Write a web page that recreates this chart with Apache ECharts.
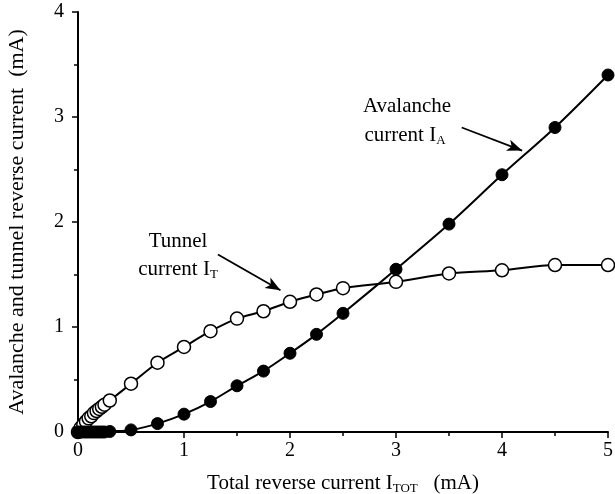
<!DOCTYPE html>
<html>
<head>
<meta charset="utf-8">
<script src="https://cdn.jsdelivr.net/npm/echarts@6/dist/echarts.min.js"></script>
<style>
html,body{margin:0;padding:0;background:#fff;}
#main{width:615px;height:494px;}
</style>
</head>
<body>
<div id="main"></div>
<script>
// Total reverse current I_TOT (mA)
var totalCurrent = [0, 0.025, 0.05, 0.075, 0.1, 0.125, 0.15, 0.175, 0.2, 0.225, 0.25, 0.3, 0.5, 0.75, 1, 1.25, 1.5, 1.75, 2, 2.25, 2.5, 3, 3.5, 4, 4.5, 5];
// Avalanche current I_A (mA)
var avalancheCurrent = [0, 0, 0, 0, 0, 0, 0, 0, 0, 0, 0, 0.005, 0.02, 0.08, 0.17, 0.29, 0.44, 0.58, 0.75, 0.93, 1.13, 1.55, 1.98, 2.45, 2.9, 3.4];
// Tunnel current I_T (mA)
var tunnelCurrent = [0, 0.04, 0.07, 0.1, 0.13, 0.15, 0.18, 0.2, 0.22, 0.24, 0.26, 0.3, 0.46, 0.66, 0.81, 0.96, 1.08, 1.15, 1.24, 1.31, 1.37, 1.43, 1.51, 1.54, 1.59, 1.59];
var xTicks = [0, 1, 2, 3, 4, 5];
var yTicks = [0, 1, 2, 3, 4];

var FONT = 'Liberation Serif';
function pairs(xs, ys) { return xs.map(function (x, i) { return [x, ys[i]]; }); }

var chart = echarts.init(document.getElementById('main'), null, {renderer: 'canvas'});
var axisCommon = {
  axisLine: {show: true, onZero: false, lineStyle: {color: '#000', width: 2}},
  axisTick: {show: true, inside: false, length: 6, lineStyle: {color: '#000', width: 1.5}},
  minorTick: {show: true, splitNumber: 2, length: 4, lineStyle: {color: '#000', width: 1.5}},
  splitLine: {show: false}
};
chart.setOption({
  backgroundColor: '#fff',
  animation: false,
  grid: {left: 78, right: 7, top: 12, bottom: 62, containLabel: false, outerBoundsMode: 'none'},
  xAxis: Object.assign({}, axisCommon, {
    type: 'value', min: xTicks[0], max: xTicks[xTicks.length - 1], interval: 1,
    name: 'Total reverse current I{sub|TOT}   (mA)',
    nameLocation: 'middle', nameGap: 39,
    nameTextStyle: {color: '#000', fontFamily: FONT, fontSize: 21,
      rich: {sub: {fontFamily: FONT, fontSize: 13, color: '#000', padding: [11, 0, 0, 0]}}},
    axisLabel: {color: '#000', fontFamily: FONT, fontSize: 20, margin: 9}
  }),
  yAxis: Object.assign({}, axisCommon, {
    type: 'value', min: yTicks[0], max: yTicks[yTicks.length - 1], interval: 1,
    name: 'Avalanche and tunnel reverse current  (mA)',
    nameLocation: 'middle', nameGap: 50,
    nameTextStyle: {color: '#000', fontFamily: FONT, fontSize: 22},
    axisLabel: {color: '#000', fontFamily: FONT, fontSize: 20, margin: 14}
  }),
  series: [
    {
      name: 'Tunnel current', type: 'line', smooth: 0.3,
      data: pairs(totalCurrent, tunnelCurrent),
      symbol: 'circle', symbolSize: 13, showAllSymbol: true,
      lineStyle: {color: '#000', width: 2},
      itemStyle: {color: '#fff', borderColor: '#000', borderWidth: 1.5},
      z: 3,
      markLine: {
        silent: true, symbol: ['none', 'arrow'], symbolSize: [9, 15],
        label: {show: false},
        lineStyle: {color: '#000', width: 1.8, type: 'solid'},
        data: [[{coord: [1.32, 1.69]}, {coord: [1.91, 1.35]}]]
      }
    },
    {
      name: 'Avalanche current', type: 'line', smooth: 0.3,
      data: pairs(totalCurrent, avalancheCurrent),
      symbol: 'circle', symbolSize: 12, showAllSymbol: true,
      lineStyle: {color: '#000', width: 2},
      itemStyle: {color: '#000', borderColor: '#000', borderWidth: 1},
      z: 4,
      markLine: {
        silent: true, symbol: ['none', 'arrow'], symbolSize: [9, 15],
        label: {show: false},
        lineStyle: {color: '#000', width: 1.8, type: 'solid'},
        data: [[{coord: [3.62, 2.90]}, {coord: [4.19, 2.68]}]]
      }
    }
  ],
  graphic: [
    {type: 'text', x: 407, y: 106, style: {text: 'Avalanche', font: '21px "Liberation Serif"', fill: '#000', align: 'center', verticalAlign: 'middle'}},
    {type: 'text', x: 405, y: 135, style: {text: 'current I{sub|A}', font: '21px "Liberation Serif"', fill: '#000', align: 'center', verticalAlign: 'middle',
      rich: {sub: {fontFamily: FONT, fontSize: 13, fill: '#000', padding: [11, 0, 0, 0]}}}},
    {type: 'text', x: 178, y: 241, style: {text: 'Tunnel', font: '21px "Liberation Serif"', fill: '#000', align: 'center', verticalAlign: 'middle'}},
    {type: 'text', x: 178, y: 269, style: {text: 'current I{sub|T}', font: '21px "Liberation Serif"', fill: '#000', align: 'center', verticalAlign: 'middle',
      rich: {sub: {fontFamily: FONT, fontSize: 13, fill: '#000', padding: [11, 0, 0, 0]}}}}
  ]
});
</script>
</body>
</html>
